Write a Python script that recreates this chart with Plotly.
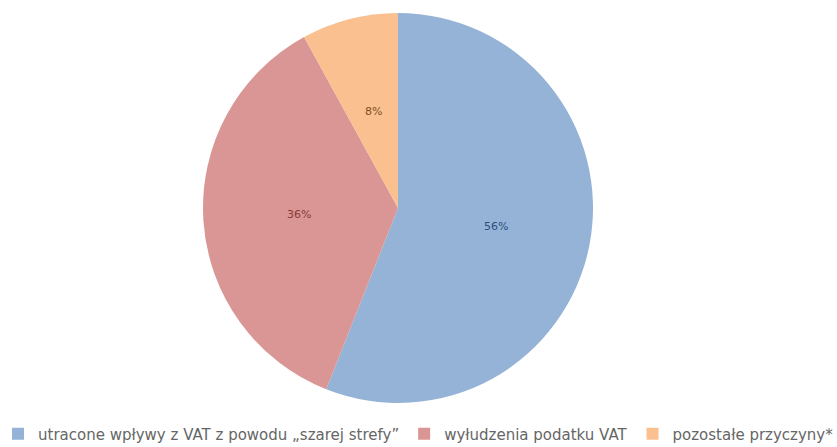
import math
import plotly.graph_objects as go

categories = [
    "utracone wpływy z VAT z powodu „szarej strefy”",
    "wyłudzenia podatku VAT",
    "pozostałe przyczyny*",
]
shares = [56, 36, 8]
slice_colors = ["#95B3D7", "#D99694", "#FAC090"]
label_colors = ["#2F4F7F", "#8B3A38", "#7F5020"]

W, H = 837, 447

# pie area in pixels (left, right, bottom, top measured from the bottom edge)
pie_left, pie_right = 203, 593
pie_bottom, pie_top = 44, 434
cx = (pie_left + pie_right) / 2
cy = (pie_bottom + pie_top) / 2
radius = min(pie_right - pie_left, pie_top - pie_bottom) / 2
label_r = 0.51 * radius

fig = go.Figure(
    go.Pie(
        labels=categories,
        values=shares,
        sort=False,
        direction="clockwise",
        rotation=0,
        marker=dict(colors=slice_colors, line=dict(color="white", width=0)),
        textinfo="none",
        hoverinfo="label+percent",
        domain=dict(x=[pie_left / W, pie_right / W], y=[pie_bottom / H, pie_top / H]),
    )
)

# percentage labels at mid-radius of each slice (clockwise from 12 o'clock)
total = sum(shares)
start = 0.0
for val, col in zip(shares, label_colors):
    mid = (start + val / 2) / total * 2 * math.pi
    start += val
    px = cx + label_r * math.sin(mid)
    py = cy + label_r * math.cos(mid)
    fig.add_annotation(
        x=px / W,
        y=py / H,
        xref="paper",
        yref="paper",
        text=f"{round(val / total * 100)}%",
        showarrow=False,
        xanchor="center",
        yanchor="middle",
        font=dict(size=11, color=col, family="DejaVu Sans"),
    )

fig.update_layout(
    width=W,
    height=H,
    margin=dict(l=0, r=0, t=0, b=0, autoexpand=False),
    paper_bgcolor="white",
    plot_bgcolor="white",
    showlegend=True,
    legend=dict(
        orientation="h",
        x=0.5,
        xanchor="center",
        y=13 / H,
        yanchor="middle",
        font=dict(size=15, color="#666666", family="DejaVu Sans"),
        itemwidth=30,
        tracegroupgap=0,
    ),
)

fig.write_html("out.html")
